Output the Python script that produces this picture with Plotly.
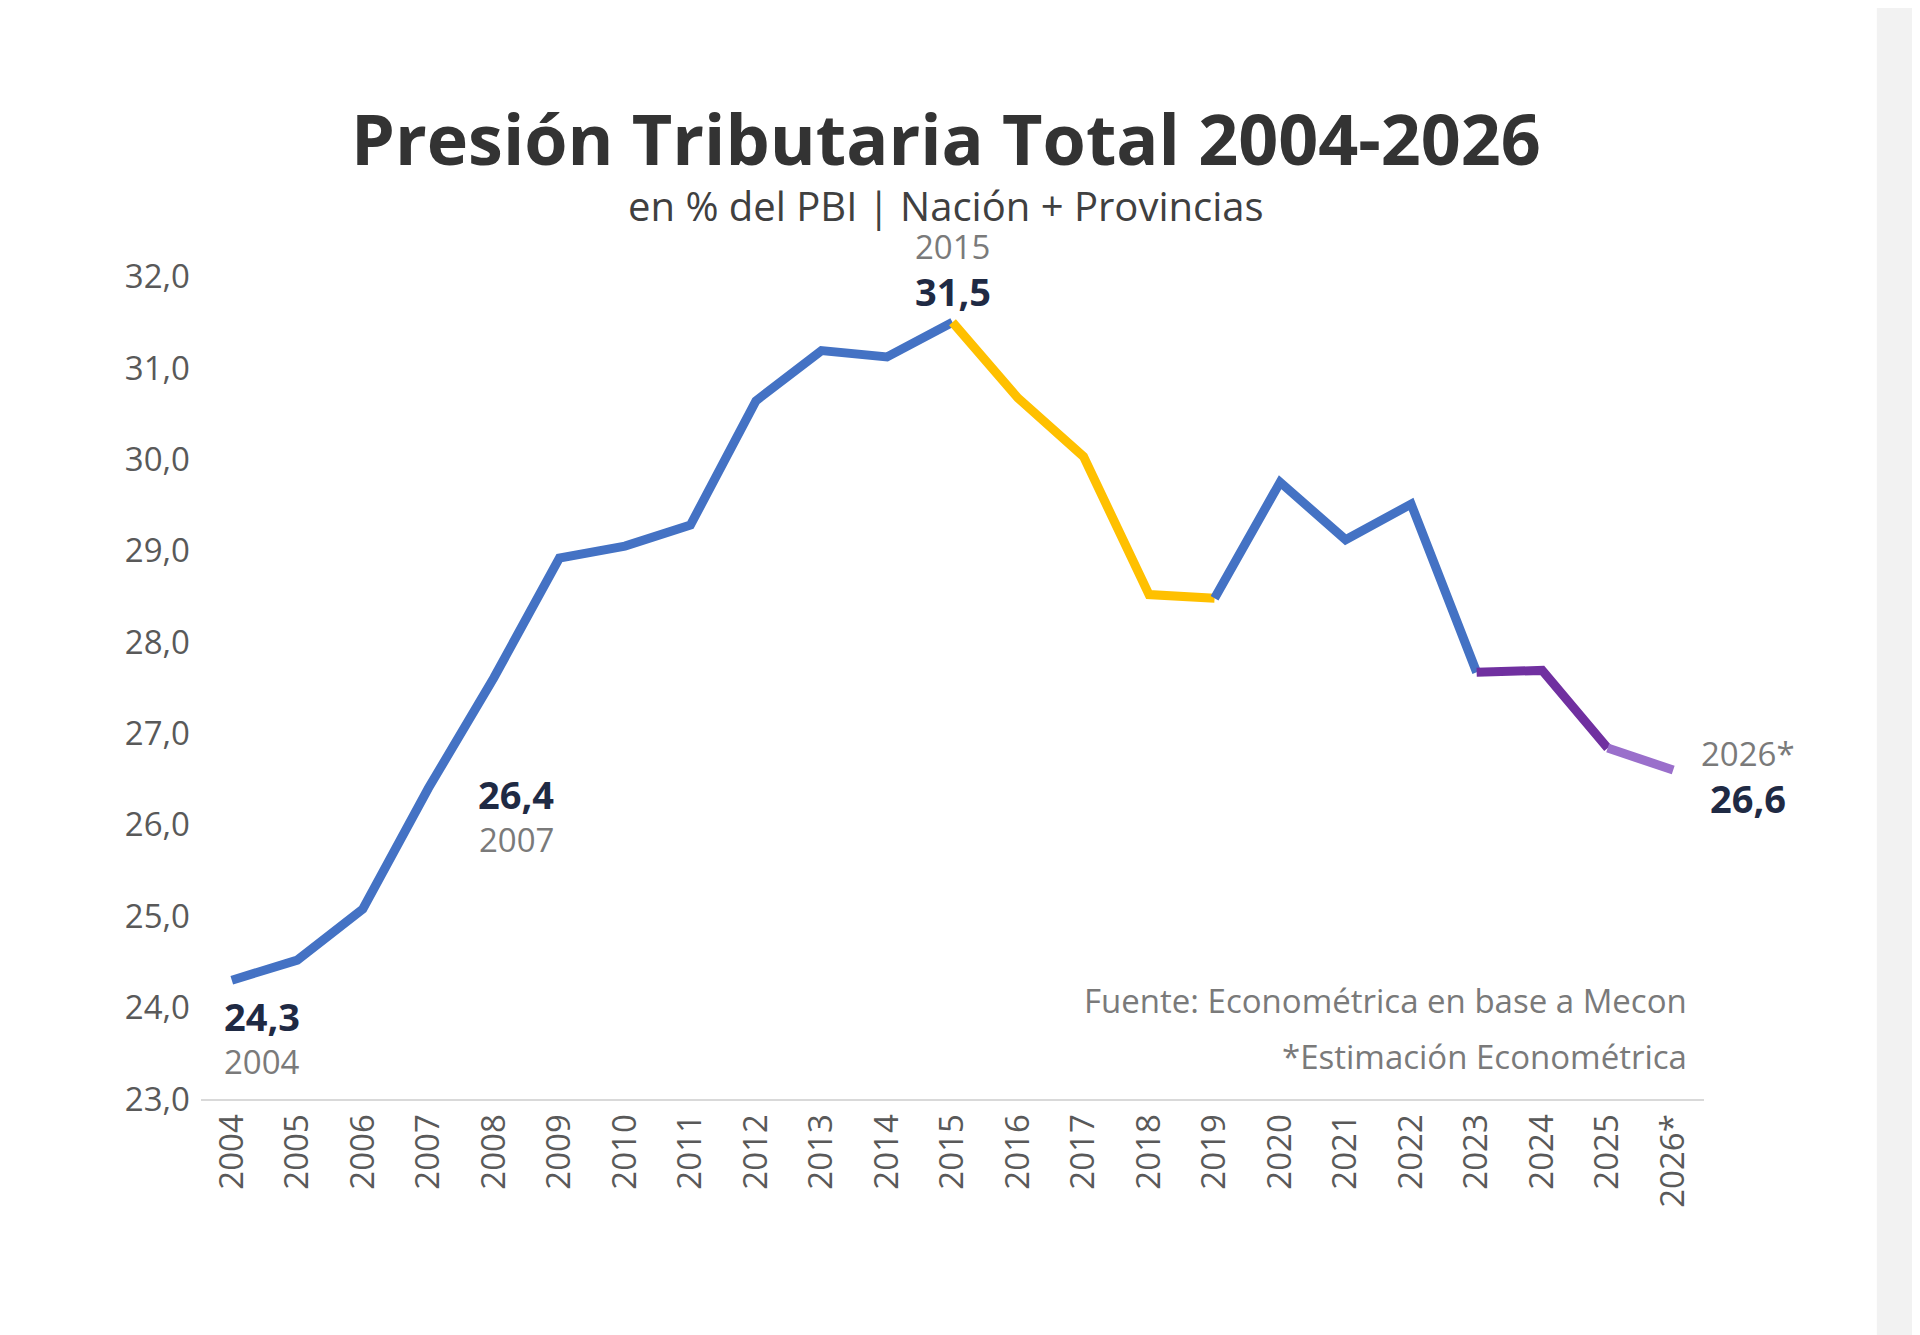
import plotly.graph_objects as go

years = ["2004","2005","2006","2007","2008","2009","2010","2011","2012","2013","2014","2015",
         "2016","2017","2018","2019","2020","2021","2022","2023","2024","2025","2026*"]
values = [24.3,24.52,25.08,26.4,27.61,28.92,29.05,29.28,30.64,31.19,31.12,31.5,
          30.67,30.03,28.52,28.48,29.75,29.12,29.51,27.67,27.69,26.84,26.6]
segments = [(0,11,"#4472C4"),(11,15,"#FFC000"),(15,19,"#4472C4"),(19,21,"#7030A0"),(21,22,"#9A6FCB")]

fig = go.Figure()
for a,b,c in segments:
    fig.add_trace(go.Scatter(x=years[a:b+1], y=values[a:b+1], mode="lines",
                             line=dict(color=c, width=9), showlegend=False, cliponaxis=False))

font = "Open Sans"
dark = "#1F2A44"; gray = "#7A7A7A"
def lab(i, val_dy, yr_dy, xshift=0):
    v = f"{values[i]:.1f}".replace(".", ",")
    fig.add_annotation(x=i, y=values[i], text=f"<b>{v}</b>", showarrow=False,
                       yshift=val_dy, xshift=xshift, font=dict(size=38, color=dark, family=font))
    fig.add_annotation(x=i, y=values[i], text=years[i], showarrow=False,
                       yshift=yr_dy, xshift=xshift, font=dict(size=33, color=gray, family=font))
lab(0, -36, -81, 30)
lab(3, -6, -51, 88)
lab(11, 31, 76, 0)
lab(22, -28, 17, 75)

fig.add_annotation(xref="paper", yref="paper", x=0.496, y=1.222, showarrow=False,
                   text="<b>Presión Tributaria Total 2004-2026</b>", font=dict(size=70, color="#333333", family=font))
fig.add_annotation(xref="paper", yref="paper", x=0.496, y=1.116, showarrow=False,
                   text="en % del PBI | Nación + Provincias", font=dict(size=40, color="#404040", family=font))

fig.add_annotation(xref="paper", yref="paper", x=0.99, y=0.09, xanchor="right", showarrow=False,
                   text="Fuente: Econométrica en base a Mecon", font=dict(size=33, color=gray, family=font))
fig.add_annotation(xref="paper", yref="paper", x=0.99, y=0.022, xanchor="right", showarrow=False,
                   text="*Estimación Econométrica", font=dict(size=33, color=gray, family=font))

fig.add_shape(type="rect", xref="paper", yref="paper", x0=1.115, x1=1.2, y0=-0.4, y1=1.4,
              fillcolor="#F2F2F2", line_width=0, layer="below")

fig.update_layout(
    width=1920, height=1335, paper_bgcolor="white", plot_bgcolor="white",
    separators=",.",
    margin=dict(l=193, r=224, t=264, b=244),
    xaxis=dict(type="category", range=[-0.47, 22.47], tickangle=-90, showgrid=False,
               showline=True, linecolor="#D9D9D9", linewidth=2, ticks="",
               tickfont=dict(size=33, color="#595959", family=font)),
    yaxis=dict(range=[23, 32.05], dtick=1, tickformat=".1f", showgrid=False, zeroline=False,
               tickfont=dict(size=33, color="#595959", family=font), ticklabelstandoff=10),
)
fig.write_html("out.html")
